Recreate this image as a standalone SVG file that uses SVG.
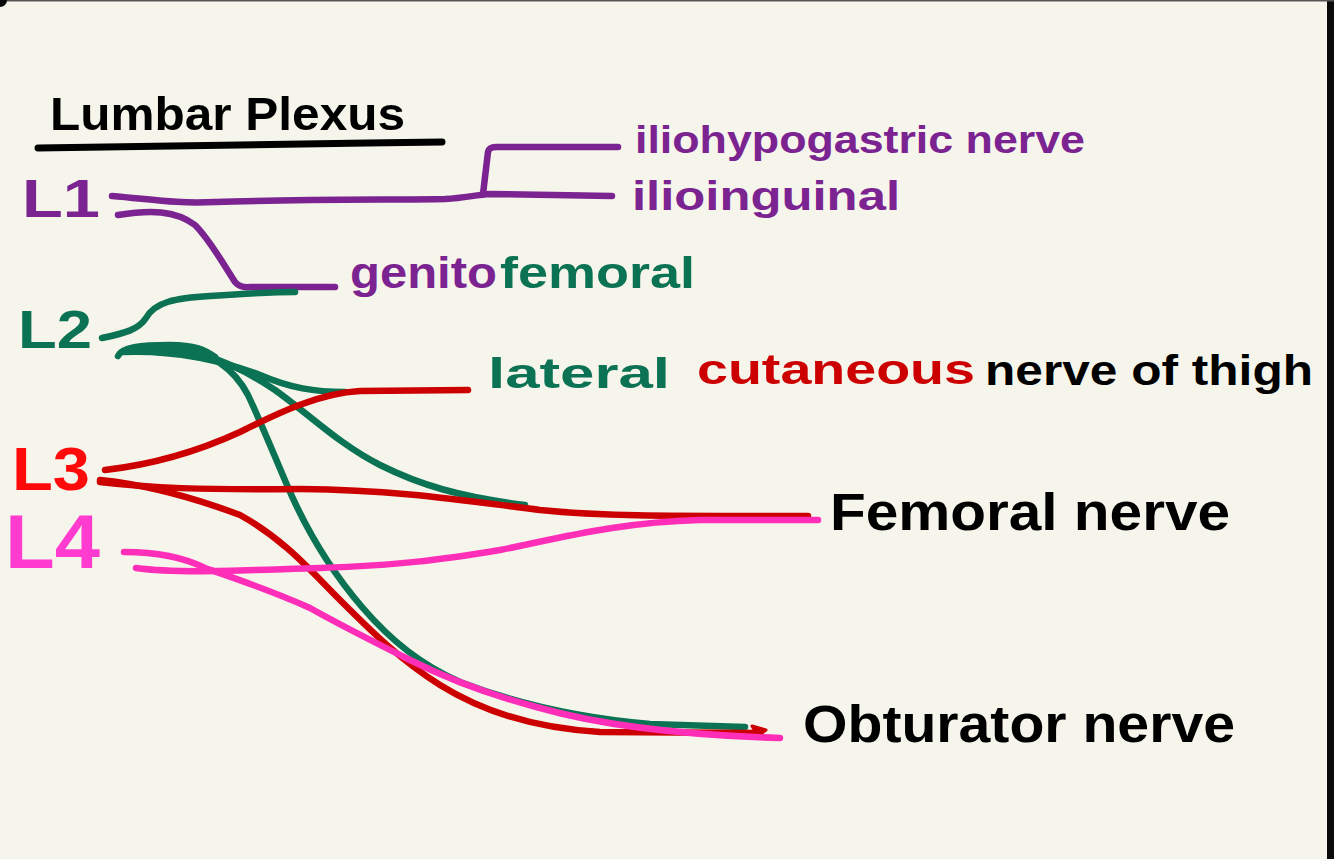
<svg xmlns="http://www.w3.org/2000/svg" width="1334" height="859" viewBox="0 0 1334 859">
<style>
.t{font-family:"Liberation Sans",Arial,sans-serif;font-weight:bold}
.ln{fill:none;stroke-width:6.5;stroke-linecap:round;stroke-linejoin:round}
.pu{stroke:#7b2391}.gr{stroke:#0b7253}.rd{stroke:#cc0000}.mg{stroke:#ff2eb8}
</style>
<rect x="0" y="0" width="1334" height="859" fill="#f6f5eb"/>
<rect x="1327" y="0" width="7" height="859" fill="#0a0a0a"/>
<rect x="0" y="0" width="1334" height="1.5" fill="#555"/>
<path d="M0,0 L7,0 A7,7 0 0 1 0,7 Z" fill="#0a0a0a"/>
<g id="title">
<text class="t" x="50" y="130" font-size="47" textLength="355" lengthAdjust="spacingAndGlyphs" fill="#000">Lumbar Plexus</text>
<path d="M38,148 C150,146 300,144 442,142" fill="none" stroke="#000" stroke-width="7" stroke-linecap="round"/>
</g>
<g id="L1"><text class="t" x="22" y="217" font-size="54" textLength="78" lengthAdjust="spacingAndGlyphs" fill="#7b2391">L1</text></g>
<g id="L2"><text class="t" x="18" y="348" font-size="54" textLength="74" lengthAdjust="spacingAndGlyphs" fill="#0b7253">L2</text></g>
<g id="L3"><text class="t" x="12" y="490" font-size="62" textLength="78" lengthAdjust="spacingAndGlyphs" fill="#ff0a0a">L3</text></g>
<g id="L4"><text class="t" x="5" y="568" font-size="76" textLength="95" lengthAdjust="spacingAndGlyphs" fill="#ff3ccf">L4</text></g>
<g id="iliohypogastric"><text class="t" x="635" y="153" font-size="39" textLength="450" lengthAdjust="spacingAndGlyphs" fill="#7b2391">iliohypogastric nerve</text></g>
<g id="ilioinguinal"><text class="t" x="632" y="210" font-size="41" textLength="268" lengthAdjust="spacingAndGlyphs" fill="#7b2391">ilioinguinal</text></g>
<g id="genitofemoral">
<text class="t" x="350" y="288" font-size="45" textLength="147" lengthAdjust="spacingAndGlyphs" fill="#7b2391">genito</text>
<text class="t" x="500" y="288" font-size="45" textLength="195" lengthAdjust="spacingAndGlyphs" fill="#0b7253">femoral</text>
</g>
<g id="lateral-cutaneous">
<text class="t" x="488" y="388" font-size="43" textLength="182" lengthAdjust="spacingAndGlyphs" fill="#0b7253">lateral</text>
<text class="t" x="697" y="384" font-size="43" textLength="278" lengthAdjust="spacingAndGlyphs" fill="#cc0000">cutaneous</text>
<text class="t" x="985" y="385" font-size="43" textLength="328" lengthAdjust="spacingAndGlyphs" fill="#000">nerve of thigh</text>
</g>
<g id="femoral"><text class="t" x="830" y="530" font-size="51" textLength="400" lengthAdjust="spacingAndGlyphs" fill="#000">Femoral nerve</text></g>
<g id="obturator"><text class="t" x="803" y="742" font-size="51" textLength="432" lengthAdjust="spacingAndGlyphs" fill="#000">Obturator nerve</text></g>
<g id="connectors">
<path class="ln pu" d="M112,196 C150,199 175,204 215,202 C300,199 400,200 445,199 C465,198 475,195 490,194 L612,196"/>
<path class="ln pu" d="M483,194 L488,152 Q489,147 496,147 L618,147"/>
<path class="ln pu" d="M118,215 C150,210 175,210 195,225 C210,240 222,262 235,282 Q240,288 250,287 L335,287"/>
<path class="ln gr" d="M102,338 C125,333 138,330 146,318 C155,302 175,298 210,296 C240,294 270,292 295,292"/>
<path class="ln gr" stroke-width="9" d="M118,356 C122,347 140,345 170,345 C195,345 205,350 215,357"/>
<path class="ln gr" d="M122,352 C170,350 215,358 260,375 C290,388 315,392 345,392"/>
<path class="ln gr" d="M150,348 C190,346 230,360 275,390 C310,415 340,445 380,465 C420,485 460,497 525,505"/>
<path class="ln gr" d="M175,347 C210,350 235,370 248,395 C262,425 272,450 287,485 C307,532 332,572 362,607 C392,642 422,665 460,682 C520,705 580,718 650,724 L745,727"/>
<path class="ln rd" d="M105,470 C140,466 190,455 240,432 C280,412 320,393 360,391 L468,390"/>
<path class="ln rd" d="M100,482 C150,488 200,490 300,489 C400,490 460,500 540,510 C600,516 650,516 808,516"/>
<path class="ln rd" d="M100,480 C150,485 200,500 240,515 C285,540 310,570 340,600 C370,630 400,660 440,685 C480,710 530,728 600,732 L760,733"/>
<path d="M752,726 L766,730 L758,736 Z" fill="#cc0000" stroke="#cc0000" stroke-width="3" stroke-linejoin="round"/>
<path class="ln mg" d="M136,568 C180,574 250,570 320,568 C400,565 440,560 500,550 C560,538 620,522 700,520 L818,520"/>
<path class="ln mg" d="M124,552 C160,552 185,558 205,568 C240,580 270,590 310,608 C340,625 370,640 410,660 C450,680 490,695 540,708 C600,725 680,735 780,738"/>
</g>
</svg>
